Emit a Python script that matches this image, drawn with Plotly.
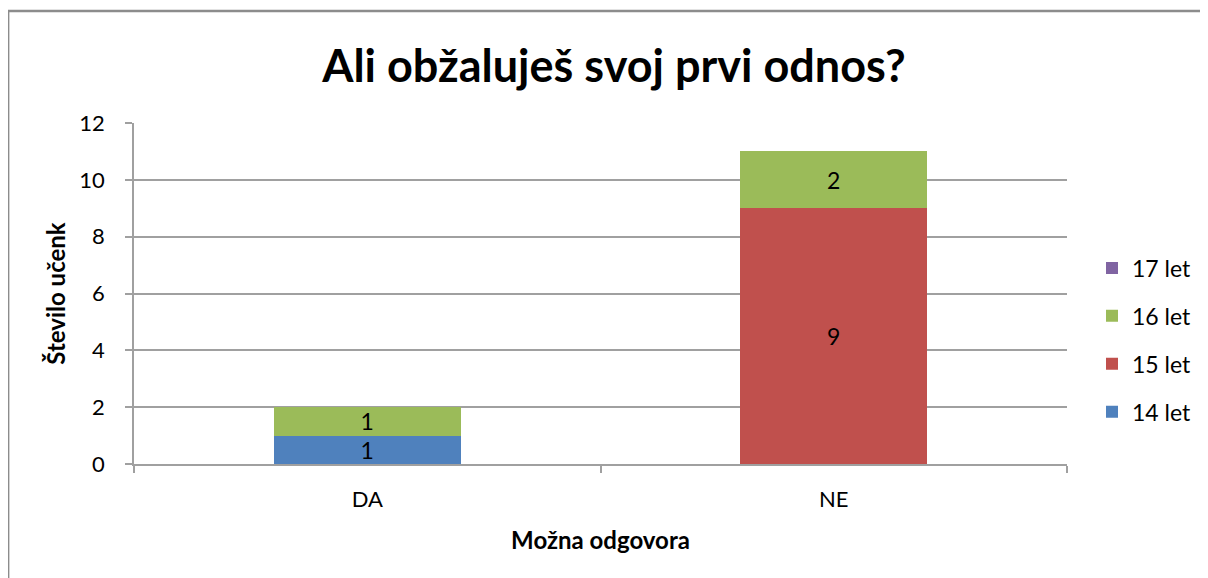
import plotly.graph_objects as go

categories = ["DA", "NE"]
series_names = ["14 let", "15 let", "16 let", "17 let"]
values_14 = [1, 0]
values_15 = [0, 9]
values_16 = [1, 2]
values_17 = [0, 0]
colors = ["#4F81BD", "#C0504D", "#9BBB59", "#8064A2"]
y_ticks = [0, 2, 4, 6, 8, 10, 12]

FONT = "Lato, 'Open Sans', sans-serif"
OFF = 8  # page offset of the figure inside the browser window

fig = go.Figure()
n = len(series_names)
for i, (name, vals, col) in enumerate(zip(series_names, [values_14, values_15, values_16, values_17], colors)):
    fig.add_trace(go.Bar(
        x=categories, y=vals, name=name,
        marker=dict(color=col, line=dict(width=0)),
        text=[str(v) if v else "" for v in vals],
        textposition="inside", insidetextanchor="middle", textangle=0,
        constraintext="none",
        textfont=dict(family=FONT, size=23, color="#000000"),
        legendgroup=name, legendrank=n - i,
    ))

W, H = 1208 - OFF, 578 - OFF
L, R, T, B = 134 - OFF, 1208 - 1068, 123 - OFF, 578 - 464
pw, ph = W - L - R, H - T - B

def px_x(x):
    return (x - OFF - L) / pw

def px_y(y):
    return (H - B - (y - OFF)) / ph

fig.update_layout(
    width=W, height=H,
    barmode="stack", bargap=0.6,
    margin=dict(l=L, r=R, t=T, b=B),
    paper_bgcolor="white", plot_bgcolor="white",
    font=dict(family=FONT, size=22, color="#000000"),
    title=dict(text="<b>Ali obžaluješ svoj prvi odnos?</b>", x=(614 - OFF) / W, xanchor="center",
               y=1 - (66 - OFF) / H, yanchor="middle",
               font=dict(family=FONT, size=45, color="#000000")),
    showlegend=True,
    legend=dict(x=px_x(1092), xanchor="left", y=px_y(340), yanchor="middle",
                traceorder="grouped", tracegroupgap=15,
                font=dict(family=FONT, size=23, color="#000000"),
                bgcolor="rgba(0,0,0,0)"),
    xaxis=dict(
        title=dict(text="<b>Možna odgovora</b>", font=dict(family=FONT, size=24), standoff=21),
        showline=True, linecolor="#A0A0A0", linewidth=1.5,
        ticks="outside", tickson="boundaries", ticklen=7, tickcolor="#A0A0A0", tickwidth=1.5,
        showgrid=False, ticklabelstandoff=15,
        tickfont=dict(family=FONT, size=22),
    ),
    yaxis=dict(
        title=dict(text="<b>Število učenk</b>", font=dict(family=FONT, size=24), standoff=7),
        range=[0, 12], tickvals=y_ticks, ticktext=[str(t) for t in y_ticks],
        showline=True, linecolor="#A0A0A0", linewidth=1.5,
        ticks="outside", ticklen=7, tickcolor="#A0A0A0", tickwidth=1.5,
        showgrid=True, gridcolor="#A0A0A0", gridwidth=1.5,
        zeroline=False, ticklabelstandoff=16,
        tickfont=dict(family=FONT, size=22),
    ),
    shapes=[dict(type="rect", xref="paper", yref="paper",
                 x0=px_x(8), y0=px_y(640), x1=px_x(1260), y1=px_y(11),
                 line=dict(color="#8C8C8C", width=2.5), fillcolor="rgba(0,0,0,0)", layer="below")],
)

fig.write_html("out.html")
